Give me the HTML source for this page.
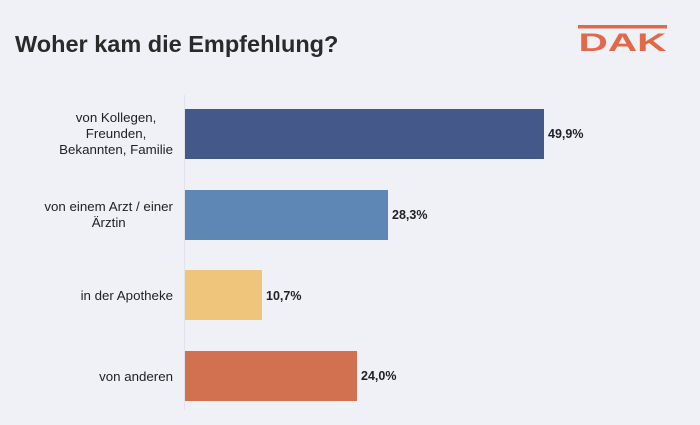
<!DOCTYPE html>
<html><head><meta charset="utf-8"><style>
body{margin:0;width:700px;height:425px;background:#f0f0f7;position:relative;overflow:hidden;font-family:"Liberation Sans",sans-serif;color:#222}
.t{position:absolute;left:15px;top:31px;font-size:23.5px;font-weight:bold;color:#2a2a2a;white-space:nowrap}
.bar{position:absolute;left:185px;height:50px}
.lab{position:absolute;right:527px;text-align:center;font-size:13.3px;line-height:16px;color:#222;white-space:nowrap}
.v{position:absolute;font-size:12.5px;font-weight:bold;color:#222}
.ax{position:absolute;left:184px;top:95px;width:1px;height:315px;background:#e2e2ea}
</style></head><body>
<div class="t">Woher kam die Empfehlung?</div>
<svg style="position:absolute;left:576px;top:22px" width="94" height="32">
<rect x="2" y="3" width="89" height="3.5" fill="#e2684a"/>
<text x="46.5" y="29" text-anchor="middle" font-family="Liberation Sans" font-weight="bold" font-size="25" fill="#e2684a" textLength="88" lengthAdjust="spacingAndGlyphs">DAK</text>
</svg>
<div class="ax"></div>
<div class="bar" style="top:109px;width:359px;background:#44588a"></div>
<div class="bar" style="top:190px;width:203px;background:#5f87b6"></div>
<div class="bar" style="top:270px;width:77px;background:#efc57c"></div>
<div class="bar" style="top:351px;width:172px;background:#d1714f"></div>
<div class="lab" style="top:110px">von Kollegen,<br>Freunden,<br>Bekannten, Familie</div>
<div class="lab" style="top:199px">von einem Arzt / einer<br>Ärztin</div>
<div class="lab" style="top:288px">in der Apotheke</div>
<div class="lab" style="top:369px">von anderen</div>
<div class="v" style="left:548px;top:127px">49,9%</div>
<div class="v" style="left:392px;top:208px">28,3%</div>
<div class="v" style="left:266px;top:289px">10,7%</div>
<div class="v" style="left:361px;top:369px">24,0%</div>
</body></html>
